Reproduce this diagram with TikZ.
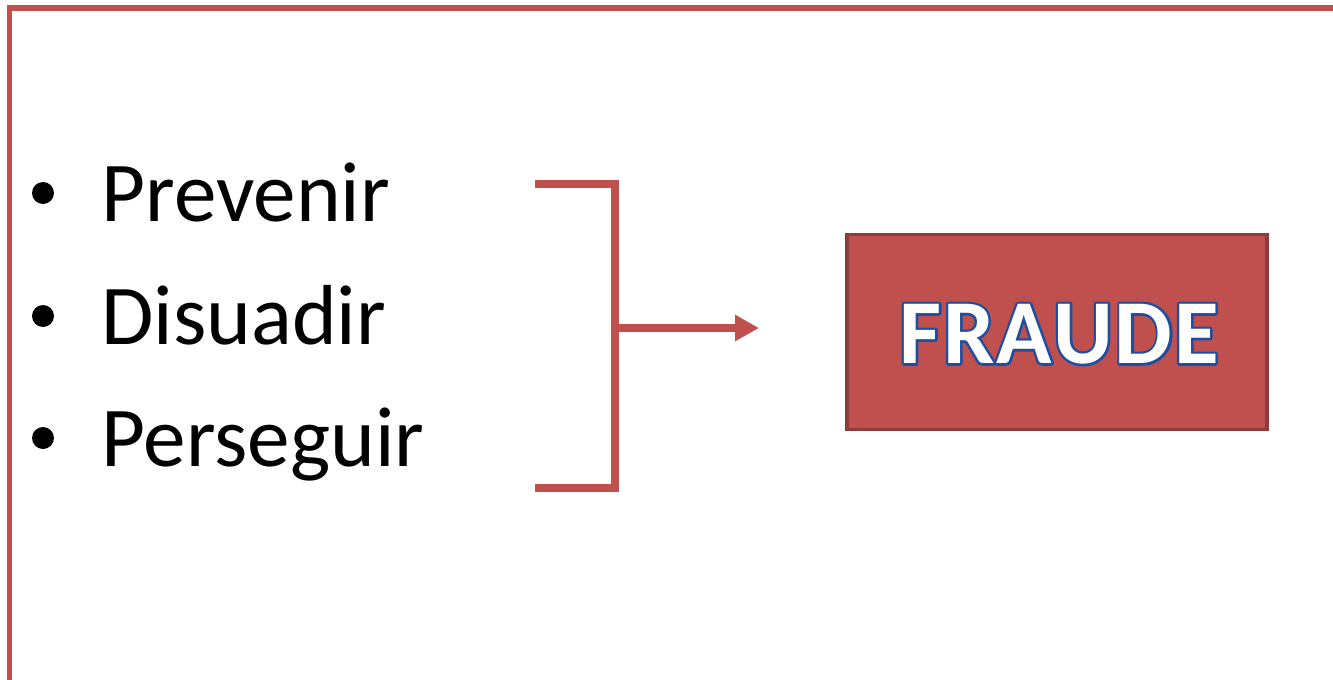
\documentclass[tikz,border=0pt]{standalone}
\usepackage{fontspec}
\setmainfont{Carlito}
\usetikzlibrary{arrows.meta}
\definecolor{redline}{HTML}{C0504D}
\definecolor{boxborder}{HTML}{8E3B39}
\newcommand{\outlinedword}[1]{\rlap{\special{pdf:literal direct 2 Tr 2.8 w 1 j 0.122 0.306 0.627 RG 0.122 0.306 0.627 rg}#1\special{pdf:literal direct 0 Tr 1 w 0 j 0 0 0 RG 0 0 0 rg}}\special{pdf:literal direct 1 1 1 rg}#1\special{pdf:literal direct 0 0 0 rg}}
\begin{document}
\begin{tikzpicture}[x=0.02cm,y=-0.02cm,
  frameline/.style={draw=redline,line width=3.2pt},
  bracketline/.style={draw=redline,line width=4.4pt},
  itemtext/.style={anchor=base west,inner sep=0pt,font=\fontsize{48.5pt}{50pt}\selectfont},
  bulletdot/.style={circle,fill=black,inner sep=0pt,minimum size=0.44cm},
  fraudebox/.style={draw=boxborder,fill=redline,line width=2.2pt,minimum width=8.4cm,minimum height=3.9cm,inner sep=0pt}
]
\useasboundingbox (0,0) rectangle (1333,680);
% frame
\coordinate (ftl) at (9.5,8);
\coordinate (ftr) at (1340,8);
\coordinate (fbl) at (9.5,690);
\draw[frameline] (fbl) -- (ftl) -- (ftr);
% bullets and items
\node[bulletdot] (b1) at (43,193) {};
\node[bulletdot] (b2) at (43,316) {};
\node[bulletdot] (b3) at (43,438) {};
\node[itemtext] (t1) at (101,221) {Prevenir};
\node[itemtext] (t2) at (101,344) {Disuadir};
\node[itemtext] (t3) at (101,466) {Perseguir};
% box
\node[fraudebox] (fraude) at (1057,332) {};
\node[inner sep=0pt,font=\bfseries\fontsize{52pt}{55pt}\selectfont] (flabel) at (1059,334)
  {\outlinedword{F\kern1ptR\kern1ptA\kern1ptU\kern1ptD\kern1ptE}};
% bracket
\coordinate (btl) at (535,184);
\coordinate (btr) at (615,184);
\coordinate (bbr) at (615,488);
\coordinate (bbl) at (535,488);
\coordinate (bmid) at (615,328);
\coordinate (tip) at (759,328);
\draw[bracketline] (btl) -- (btr) -- (bbr) -- (bbl);
\draw[bracketline,-{Triangle[length=0.48cm,width=0.5cm]}] (bmid) -- (tip);
\end{tikzpicture}
\end{document}
